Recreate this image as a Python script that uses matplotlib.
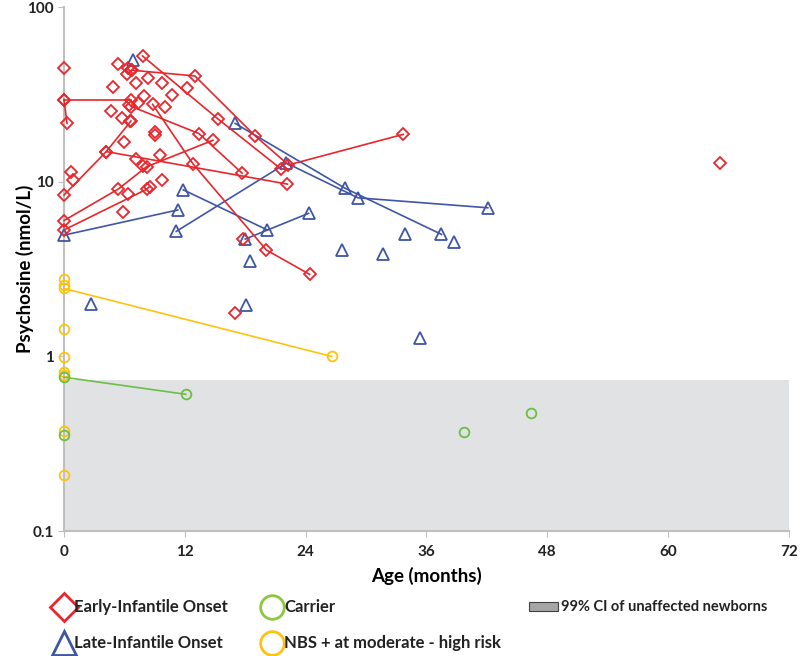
import matplotlib
matplotlib.use("Agg")
import matplotlib.pyplot as plt
from matplotlib.lines import Line2D
from matplotlib.patches import Rectangle

plt.rcParams['font.family'] = ['Lato', 'DejaVu Sans']
plt.rcParams['font.weight'] = 'bold'
plt.rcParams['axes.labelweight'] = 'bold'

RED = '#E8262B'
BLUE = '#3F55A6'
GREEN = '#6DBE45'
YELLOW = '#FFC20E'
BAND = '#E1E2E4'

# Early-infantile onset: connected follow-up samples (age in months, psychosine nmol/L)
early_lines = [
    ([0, 0.3], [29.6, 21.6]),
    ([0, 6.7], [29.6, 29.6]),
    ([6.7, 13.0, 19.0, 22.3, 33.7], [43.6, 40.4, 18.3, 12.5, 18.7]),
    ([7.8, 15.3, 21.6], [52.6, 22.9, 11.8]),
    ([6.7, 13.4, 17.7], [27.0, 18.9, 11.2]),
    ([8.8, 12.8, 20.1, 24.4], [27.8, 12.7, 4.07, 2.95]),
    ([0, 4.2, 22.2], [8.4, 14.9, 9.7]),
    ([4.2, 6.65], [14.9, 22.3]),
    ([0, 5.4, 8.2, 14.8], [6.0, 9.1, 12.2, 17.3]),
    ([0, 8.2, 8.5], [5.3, 9.06, 9.4]),
]
# Early-infantile onset: single samples
early_x = [0, 0.7, 0.9, 5.4, 6.35, 6.75, 6.3, 8.3, 7.2, 9.7, 10.75, 4.9, 7.95,
           7.4, 6.5, 10.05, 4.7, 5.8, 6.6, 9.05, 9.05, 6.0, 12.25, 7.2, 7.8,
           9.55, 9.75, 6.4, 5.85, 17.8, 17.0, 65.2]
early_y = [45, 11.4, 10.2, 47.6, 45, 43.6, 41.3, 39.1, 36.6, 36.9, 31.6, 34.7, 31,
           28.1, 27.5, 26.7, 25.4, 23.2, 22.2, 19.2, 18.5, 16.8, 34.3, 13.5, 12.4,
           14.2, 10.3, 8.5, 6.7, 4.7, 1.77, 12.8]

# Late-infantile onset
late_lines = [
    ([0, 11.3], [4.95, 6.9]),
    ([11.15, 22.1, 29.2, 42.1], [5.2, 12.8, 8.1, 7.1]),
    ([17.0, 27.9, 37.5], [21.6, 9.2, 5.0]),
    ([11.85, 20.2], [9.0, 5.3]),
    ([18.0, 24.3], [4.7, 6.6]),
]
late_x = [6.9, 2.7, 18.5, 18.1, 27.6, 31.7, 33.9, 38.7, 35.4]
late_y = [50, 2.0, 3.53, 1.97, 4.06, 3.84, 5.0, 4.5, 1.28]

# Carrier
carrier_lines = [([0, 12.1], [0.76, 0.607])]
carrier_x = [0, 39.7, 46.4]
carrier_y = [0.355, 0.37, 0.476]

# NBS positive, moderate-high risk
nbs_lines = [([0, 26.6], [2.45, 1.0])]
nbs_x = [0, 0, 0, 0, 0, 0, 0, 0]
nbs_y = [2.76, 2.57, 1.43, 0.99, 0.81, 0.78, 0.374, 0.21]

ci_low, ci_high = 0.1, 0.733

fig = plt.figure(figsize=(8, 6.56), dpi=100)
ax = fig.add_axes([0.08, 0.1905, 0.906, 0.7985])

ax.axhspan(ci_low, ci_high, color=BAND, zorder=0, lw=0)

def draw(lines, xs, ys, color, marker, ms):
    kw = dict(color=color, marker=marker, ms=ms, mfc='none', mec=color, mew=1.3)
    for lx, ly in lines:
        ax.plot(lx, ly, lw=1.2, **kw, zorder=3, clip_on=False)
    ax.plot(xs, ys, ls='none', **kw, zorder=3, clip_on=False)

draw(nbs_lines, nbs_x, nbs_y, YELLOW, 'o', 7)
draw(carrier_lines, carrier_x, carrier_y, GREEN, 'o', 7)
draw(late_lines, late_x, late_y, BLUE, '^', 8)
draw(early_lines, early_x, early_y, RED, 'D', 6)

ax.set_yscale('log')
ax.set_ylim(0.1, 100)
ax.set_xlim(0, 72)
ax.set_yticks([0.1, 1, 10, 100])
ax.set_yticklabels(['0.1', '1', '10', '100'])
ax.minorticks_off()
ax.set_xticks([0, 12, 24, 36, 48, 60, 72])
ax.tick_params(labelsize=11, colors='#222222', length=4, color='#BFBFBF')
ax.tick_params(axis='x', pad=6)

for s in ['top', 'right']:
    ax.spines[s].set_visible(False)
for s in ['left', 'bottom']:
    ax.spines[s].set_color('#BFBFBF')
    ax.spines[s].set_linewidth(1.5)

ax.set_xlabel('Age (months)', fontsize=13.5, labelpad=6)
ax.set_ylabel('Psychosine (nmol/L)', fontsize=13.5)
ax.yaxis.set_label_coords(-0.042, 0.5)

# legend drawn by hand in figure coordinates
legend_markers = [('D', 14, RED, 0.080, 0.075), ('^', 17, BLUE, 0.080, 0.020),
                  ('o', 17, '#8DC63F', 0.340, 0.075), ('o', 17, YELLOW, 0.340, 0.020)]
legend_labels = ['Early-Infantile Onset', 'Late-Infantile Onset', 'Carrier',
                 'NBS + at moderate - high risk']
for (m, ms, c, x, y), lab in zip(legend_markers, legend_labels):
    fig.add_artist(Line2D([x], [y], transform=fig.transFigure, ls='none', marker=m,
                          ms=ms, mfc='none', mec=c, mew=2))
    fig.text(x + 0.012 + (0.003 if m == 'o' else 0), y, lab, fontsize=12,
             va='center', ha='left', color='#222222')
fig.add_artist(Rectangle((0.661, 0.068), 0.036, 0.014, transform=fig.transFigure,
                         facecolor='#A6A6A6', edgecolor='#404040', lw=0.8))
fig.text(0.701, 0.075, '99% CI of unaffected newborns', fontsize=10.5,
         va='center', ha='left', color='#222222')

fig.savefig('out.png', dpi=100)
